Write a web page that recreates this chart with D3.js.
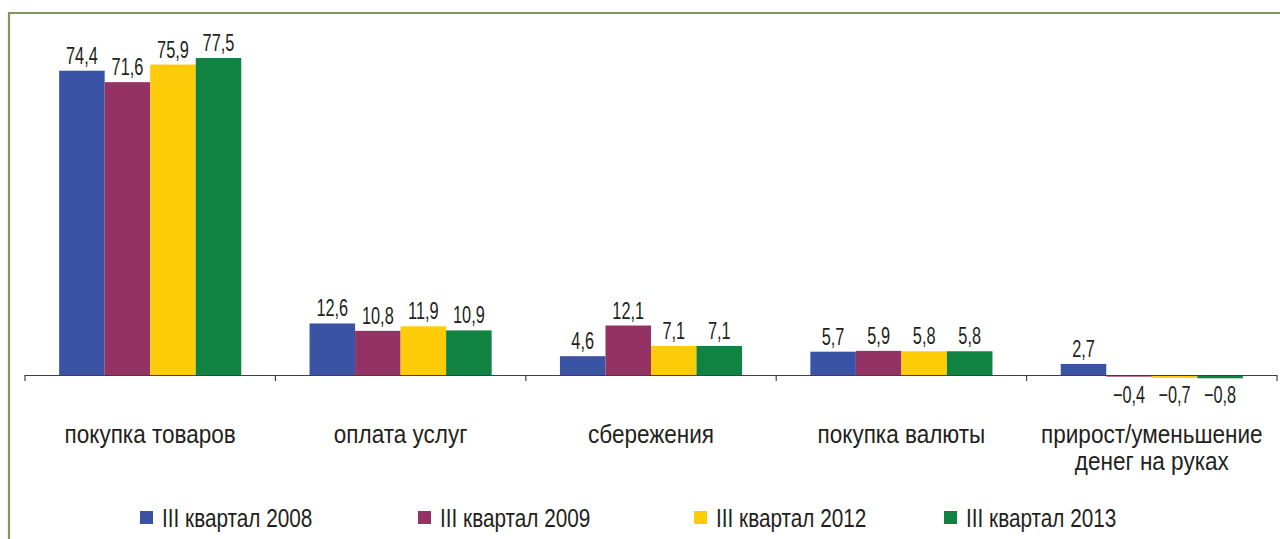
<!DOCTYPE html>
<head>
  <meta charset="utf-8" />
  <script src="https://d3js.org/d3.v7.min.js"></script>
  <style>
    body {
      margin: 0;
      background: #fff;
    }
    text {
      font-family: "Liberation Sans", Arial, sans-serif;
      fill: #231f20;
    }
  </style>
</head>

<body>
  <script>
    var width = 1280,
      height = 539;

    // данные
    var categories = [
      "покупка товаров",
      "оплата услуг",
      "сбережения",
      "покупка валюты",
      "прирост/уменьшение|денег на руках"
    ];
    var series = [
      "III квартал 2008",
      "III квартал 2009",
      "III квартал 2012",
      "III квартал 2013"
    ];
    var q2008 = [74.4, 12.6, 4.6, 5.7, 2.7];
    var q2009 = [71.6, 10.8, 12.1, 5.9, -0.4];
    var q2012 = [75.9, 11.9, 7.1, 5.8, -0.7];
    var q2013 = [77.5, 10.9, 7.1, 5.8, -0.8];
    var colors = ["#3a53a4", "#943363", "#fecb08", "#108241"];

    var values = [q2008, q2009, q2012, q2013];

    // узкий шрифт: сжимаем текст по горизонтали
    function tr(x, y, sx) {
      return "translate(" + x + "," + y + ") scale(" + sx + ",1)";
    }

    var svg = d3
      .select("body")
      .append("svg")
      .attr("width", width)
      .attr("height", height);

    // рамка
    svg
      .append("path")
      .attr("d", "M9,560 L9,13 L1290,13")
      .attr("fill", "none")
      .attr("stroke", "#7f9766")
      .attr("stroke-width", 2.2);

    var x0 = d3.scaleBand().domain(categories).range([25, 1277]);
    var x1 = d3
      .scaleBand()
      .domain(series)
      .range([0, x0.bandwidth()])
      .paddingOuter(0.75);
    var y = d3.scaleLinear().domain([0, 80]).range([375, 47.8]);

    var groups = svg
      .selectAll("g.cat")
      .data(categories)
      .enter()
      .append("g")
      .attr("class", "cat")
      .attr("transform", (d) => "translate(" + x0(d) + ",0)");

    groups
      .selectAll("rect")
      .data((d, i) => series.map((s, j) => ({ s: s, v: values[j][i], c: colors[j] })))
      .enter()
      .append("rect")
      .attr("x", (d) => x1(d.s))
      .attr("width", x1.bandwidth())
      .attr("y", (d) => y(Math.max(0, d.v)))
      .attr("height", (d) => Math.abs(y(d.v) - y(0)))
      .attr("fill", (d) => d.c);

    groups
      .selectAll("text.val")
      .data((d, i) => series.map((s, j) => ({ s: s, v: values[j][i] })))
      .enter()
      .append("text")
      .attr("class", "val")
      .attr("transform", (d) =>
        tr(x1(d.s) + x1.bandwidth() / 2, d.v >= 0 ? y(d.v) - 7 : y(0) + 28, 0.68)
      )
      .attr("text-anchor", "middle")
      .style("font-size", "24px")
      .text((d) => (d.v < 0 ? "\u2212" : "") + String(Math.abs(d.v)).replace(".", ","));

    // ось
    svg
      .append("line")
      .attr("x1", 25)
      .attr("x2", 1277)
      .attr("y1", y(0) + 0.5)
      .attr("y2", y(0) + 0.5)
      .attr("stroke", "#404040")
      .attr("stroke-width", 1.2);

    var ticks = categories.map((c) => x0(c)).concat([x0.range()[1]]);
    svg
      .selectAll("line.tick")
      .data(ticks)
      .enter()
      .append("line")
      .attr("class", "tick")
      .attr("x1", (d) => d)
      .attr("x2", (d) => d)
      .attr("y1", y(0))
      .attr("y2", y(0) + 6)
      .attr("stroke", "#404040")
      .attr("stroke-width", 1.2);

    // подписи категорий
    groups
      .append("text")
      .attr("transform", tr(x0.bandwidth() / 2, 443, 0.85))
      .attr("text-anchor", "middle")
      .style("font-size", "26.5px")
      .selectAll("tspan")
      .data((d) => d.split("|"))
      .enter()
      .append("tspan")
      .attr("x", 0)
      .attr("dy", (d, i) => (i == 0 ? 0 : 27))
      .text((d) => d);

    // легенда
    var legendX = [140, 418, 694, 944];
    var leg = svg
      .selectAll("g.leg")
      .data(series)
      .enter()
      .append("g")
      .attr("class", "leg")
      .attr("transform", (d, i) => "translate(" + legendX[i] + ",511)");
    leg
      .append("rect")
      .attr("width", 13)
      .attr("height", 13)
      .attr("fill", (d, i) => colors[i]);
    leg
      .append("text")
      .attr("transform", tr(22, 16, 0.83))
      .style("font-size", "25px")
      .text((d) => d);
  </script>
</body>
